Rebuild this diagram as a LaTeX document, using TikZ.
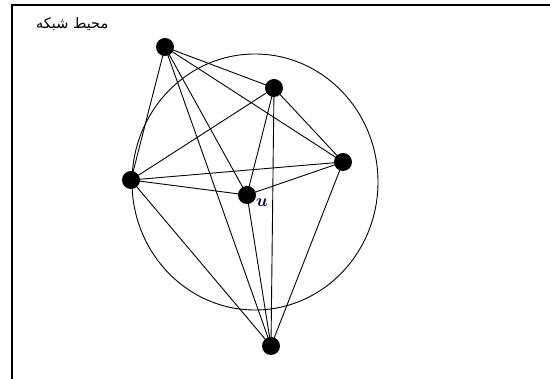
\documentclass[tikz,border=0pt]{standalone}
\usepackage{fontspec}
\TeXXeTstate=1
\newfontfamily\arabicfont[Script=Arabic]{DejaVu Sans}
\begin{document}
\begin{tikzpicture}[x=1pt,y=-1pt,
  vtx/.style={circle,fill=black,inner sep=0pt,minimum size=18pt},
  edge/.style={draw=black,line width=0.9pt}]
\useasboundingbox (0,0) rectangle (550,379);
\fill[white] (0,0) rectangle (550,379);
\draw[line width=1.4pt] (12,379) -- (12,5) -- (550,5);
\node[anchor=west,font=\arabicfont\fontsize{14.5}{16}\selectfont,inner sep=0pt] (title) at (36,24) {\beginR محیط شبکه\endR};
\draw[line width=0.9pt] (255,182) ellipse [x radius=123, y radius=128];
\node[vtx] (a) at (165,47) {};
\node[vtx] (b) at (274,88) {};
\node[vtx] (c) at (343,162) {};
\node[vtx] (d) at (131,180) {};
\node[vtx] (u) at (247,195) {};
\node[vtx] (e) at (271,346) {};
\node[font=\fontsize{17}{19}\selectfont\boldmath,text=black!75!blue,inner sep=0pt] (ul) at (262,203) {$u$};
\foreach \p/\q in {a/b,a/c,a/d,a/u,a/e,b/c,b/d,b/u,b/e,c/d,c/u,c/e,d/u,d/e,u/e}
  \draw[edge] (\p.center) -- (\q.center);
\end{tikzpicture}
\end{document}
